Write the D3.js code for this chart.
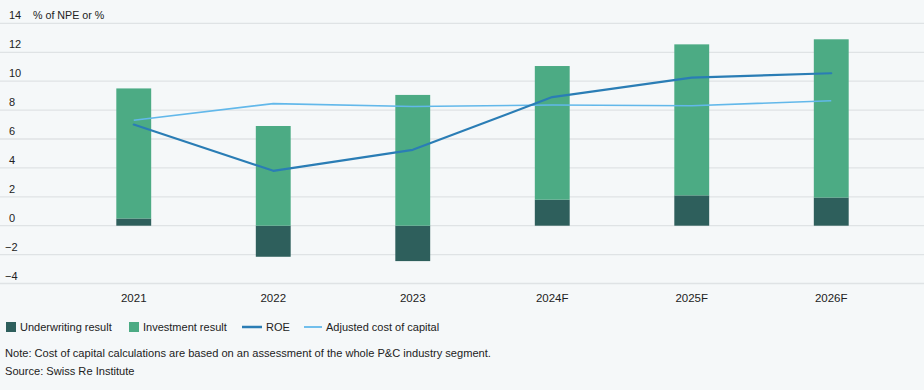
<!DOCTYPE html>
<html><head><meta charset="utf-8">
<script src="https://cdn.jsdelivr.net/npm/d3@7"></script>
<style>
html,body{margin:0;padding:0;background:#f5f8f9;}
svg{display:block;font-family:"Liberation Sans","Roboto",Arial,sans-serif;}
</style></head>
<body>
<svg id="chart" width="924" height="390"></svg>
<script>
const categories = ["2021","2022","2023","2024F","2025F","2026F"];
const underwriting = [0.5, -2.15, -2.45, 1.8, 2.1, 1.95];
const investment = [9.0, 6.9, 9.05, 9.25, 10.45, 10.95];
const roe = [7.0, 3.8, 5.25, 8.9, 10.25, 10.55];
const costOfCapital = [7.3, 8.45, 8.25, 8.35, 8.3, 8.65];
const yTicks = [-4,-2,0,2,4,6,8,10,12,14];
const yAxisTitle = "% of NPE or %";
const legendItems = ["Underwriting result","Investment result","ROE","Adjusted cost of capital"];
const note = "Note: Cost of capital calculations are based on an assessment of the whole P&C industry segment.";
const source = "Source: Swiss Re Institute";

const colors = {uw:"#2e5f5c", inv:"#4cab84", roe:"#2a7db5", coc:"#62b8ea", grid:"#dfe3e5", text:"#222"};

const svg = d3.select("#chart");
const y = d3.scaleLinear().domain([-4,14]).range([283.5,23.4]);
const x = d3.scaleBand().domain(categories).range([64,901]).paddingInner(0.75).paddingOuter(0.375);

// gridlines
svg.append("g").selectAll("line").data(yTicks).join("line")
  .attr("x1",0).attr("x2",924)
  .attr("y1",d=>y(d)).attr("y2",d=>y(d))
  .attr("stroke",colors.grid).attr("stroke-width",1.3);

// y labels (above the gridline)
svg.append("g").selectAll("text").data(yTicks).join("text")
  .attr("x",d=> d<0 ? 5 : 9).attr("y",d=>y(d)-4)
  .attr("font-size",11).attr("fill",colors.text)
  .text(d=> d<0 ? "\u2212"+Math.abs(d) : d);
svg.append("text").attr("x",33).attr("y",y(14)-4).attr("font-size",10.7).attr("fill",colors.text).text(yAxisTitle);

// bars: underwriting from 0; investment stacked on positive side
const bw = x.bandwidth();
svg.append("g").selectAll("rect").data(categories).join("rect")
  .attr("x",d=>x(d)).attr("width",bw)
  .attr("y",(d,i)=>y(Math.max(0,underwriting[i])))
  .attr("height",(d,i)=>Math.abs(y(underwriting[i])-y(0)))
  .attr("fill",colors.uw);
svg.append("g").selectAll("rect").data(categories).join("rect")
  .attr("x",d=>x(d)).attr("width",bw)
  .attr("y",(d,i)=>{const b=Math.max(0,underwriting[i]); return y(b+investment[i]);})
  .attr("height",(d,i)=>y(0)-y(investment[i]))
  .attr("fill",colors.inv);

const cx = d=>x(d)+bw/2;
const line = d3.line().x(d=>cx(d[0])).y(d=>y(d[1]));
svg.append("path").datum(categories.map((c,i)=>[c,costOfCapital[i]]))
  .attr("d",line).attr("fill","none").attr("stroke",colors.coc).attr("stroke-width",1.6)
  .attr("stroke-linejoin","round");
svg.append("path").datum(categories.map((c,i)=>[c,roe[i]]))
  .attr("d",line).attr("fill","none").attr("stroke",colors.roe).attr("stroke-width",2.2)
  .attr("stroke-linejoin","round").attr("stroke-linecap","round");

// x labels
svg.append("g").selectAll("text").data(categories).join("text")
  .attr("x",d=>cx(d)).attr("y",302).attr("text-anchor","middle")
  .attr("font-size",11.5).attr("fill",colors.text).text(d=>d);

// legend
const lg = svg.append("g").attr("font-size",11).attr("fill",colors.text);
const legX = [6, 129, 242, 304];
lg.append("rect").attr("x",legX[0]).attr("y",322).attr("width",10).attr("height",10).attr("fill",colors.uw);
lg.append("text").attr("x",legX[0]+14).attr("y",331).text(legendItems[0]);
lg.append("rect").attr("x",legX[1]).attr("y",322).attr("width",10).attr("height",10).attr("fill",colors.inv);
lg.append("text").attr("x",legX[1]+14).attr("y",331).text(legendItems[1]);
lg.append("line").attr("x1",legX[2]).attr("x2",legX[2]+20).attr("y1",327).attr("y2",327).attr("stroke",colors.roe).attr("stroke-width",2.5);
lg.append("text").attr("x",legX[2]+24).attr("y",331).text(legendItems[2]);
lg.append("line").attr("x1",legX[3]).attr("x2",legX[3]+18).attr("y1",327).attr("y2",327).attr("stroke",colors.coc).attr("stroke-width",1.8);
lg.append("text").attr("x",legX[3]+22).attr("y",331).text(legendItems[3]);

svg.append("text").attr("x",5).attr("y",357).attr("font-size",11.1).attr("fill",colors.text).text(note);
svg.append("text").attr("x",5).attr("y",375).attr("font-size",11.1).attr("fill",colors.text).text(source);
</script>
</body></html>
